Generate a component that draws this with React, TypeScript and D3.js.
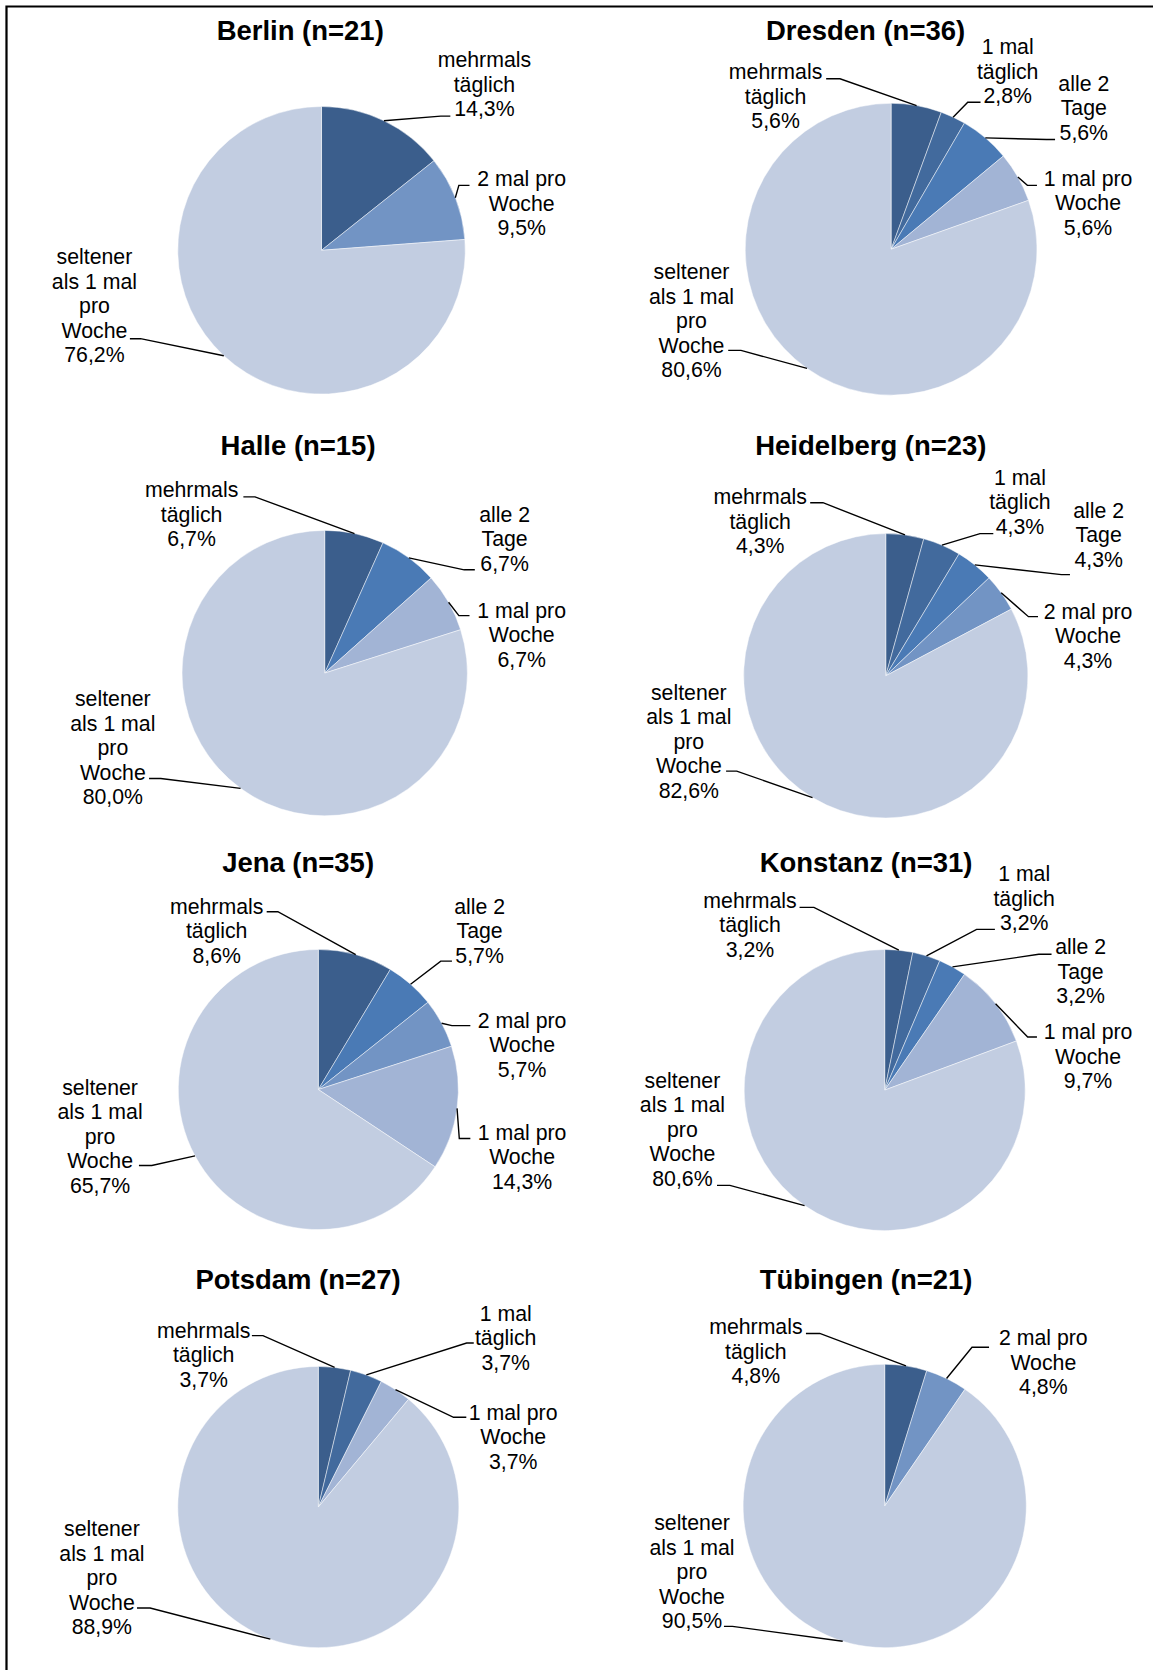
import React from "react";
import * as d3 from "d3";

// Answer categories (clockwise order, starting at 12 o'clock)
const categories = [
  "mehrmals täglich",
  "1 mal täglich",
  "alle 2 Tage",
  "2 mal pro Woche",
  "1 mal pro Woche",
  "seltener als 1 mal pro Woche",
];

// How each category label is broken into lines
const categoryLines = [
  ["mehrmals", "täglich"],
  ["1 mal", "täglich"],
  ["alle 2", "Tage"],
  ["2 mal pro", "Woche"],
  ["1 mal pro", "Woche"],
  ["seltener", "als 1 mal", "pro", "Woche"],
];

const categoryColors = ["#3b5e8c", "#426a9d", "#4a7ab5", "#7294c4", "#a2b4d5", "#c2cde1"];

const cities = ["Berlin", "Dresden", "Halle", "Heidelberg", "Jena", "Konstanz", "Potsdam", "Tübingen"];
const sampleSizes = [21, 36, 15, 23, 35, 31, 27, 21];

// Shares in percent, one entry per category
const sharesBerlin = [14.3, 0, 0, 9.5, 0, 76.2];
const sharesDresden = [5.6, 2.8, 5.6, 0, 5.6, 80.6];
const sharesHalle = [6.7, 0, 6.7, 0, 6.7, 80.0];
const sharesHeidelberg = [4.3, 4.3, 4.3, 4.3, 0, 82.6];
const sharesJena = [8.6, 0, 5.7, 5.7, 14.3, 65.7];
const sharesKonstanz = [3.2, 3.2, 3.2, 0, 9.7, 80.6];
const sharesPotsdam = [3.7, 3.7, 0, 0, 3.7, 88.9];
const sharesTuebingen = [4.8, 0, 0, 4.8, 0, 90.5];

const cityShares = [
  sharesBerlin,
  sharesDresden,
  sharesHalle,
  sharesHeidelberg,
  sharesJena,
  sharesKonstanz,
  sharesPotsdam,
  sharesTuebingen,
];

// Panel geometry: pie centre/radius, title anchor and label placement.
// Label: x = text centre, y = centre of first line, (ex, ey) = leader elbow, sx = leader end.
type LabelPos = { x: number; y: number; ex: number; ey: number; sx: number };
type PanelLayout = {
  cx: number;
  cy: number;
  r: number;
  tx: number;
  ty: number;
  labels: Record<number, LabelPos>;
};

const panelLayouts: PanelLayout[] = [
  {
    cx: 302, cy: 235, r: 135, tx: 282, ty: 37.5,
    labels: {
      0: { x: 455, y: 56, ex: 414, ey: 109, sx: 423 },
      3: { x: 490, y: 168, ex: 431, ey: 174, sx: 441 },
      5: { x: 88.7, y: 241, ex: 132, ey: 318, sx: 122 },
    },
  },
  {
    cx: 837, cy: 234, r: 137, tx: 813, ty: 37.5,
    labels: {
      0: { x: 728.5, y: 67.3, ex: 789, ey: 74, sx: 776 },
      1: { x: 946.5, y: 44, ex: 909, ey: 96, sx: 921 },
      2: { x: 1018, y: 78, ex: 983, ey: 131, sx: 991 },
      4: { x: 1022, y: 167.5, ex: 965, ey: 174, sx: 974 },
      5: { x: 649.5, y: 255, ex: 696, ey: 329, sx: 684 },
    },
  },
  {
    cx: 305, cy: 632, r: 134, tx: 280, ty: 427.5,
    labels: {
      0: { x: 180, y: 460, ex: 239.5, ey: 466.5, sx: 228.6 },
      2: { x: 474, y: 483, ex: 436, ey: 535, sx: 446 },
      4: { x: 490, y: 573, ex: 431, ey: 578, sx: 441 },
      5: { x: 106, y: 656, ex: 151, ey: 731, sx: 140 },
    },
  },
  {
    cx: 832, cy: 634.5, r: 133.5, tx: 818, ty: 427.5,
    labels: {
      0: { x: 714, y: 466.5, ex: 773, ey: 472, sx: 761 },
      1: { x: 958, y: 448, ex: 920.5, ey: 501, sx: 933 },
      2: { x: 1032, y: 479, ex: 997, ey: 539.5, sx: 1005 },
      3: { x: 1022, y: 574, ex: 966, ey: 579, sx: 975 },
      5: { x: 647, y: 650, ex: 692, ey: 724, sx: 682 },
    },
  },
  {
    cx: 299, cy: 1023, r: 131.5, tx: 280, ty: 819,
    labels: {
      0: { x: 203.5, y: 851, ex: 261, ey: 856, sx: 250.5 },
      2: { x: 450.5, y: 851, ex: 414, ey: 902.4, sx: 424.5 },
      3: { x: 490.4, y: 958, ex: 424.5, ey: 963, sx: 441.8 },
      4: { x: 490.4, y: 1063, ex: 431.4, ey: 1069, sx: 441.8 },
      5: { x: 94, y: 1020.7, ex: 142.6, ey: 1094.3, sx: 130.5 },
    },
  },
  {
    cx: 831, cy: 1023.5, r: 132, tx: 813.5, ty: 819,
    labels: {
      0: { x: 704.5, y: 845.4, ex: 764.5, ey: 852, sx: 751 },
      1: { x: 962, y: 820.3, ex: 917.3, ey: 872.6, sx: 934.5 },
      2: { x: 1015, y: 889.2, ex: 975.7, ey: 896, sx: 987.7 },
      4: { x: 1022, y: 969, ex: 965.3, ey: 973.7, sx: 974 },
      5: { x: 641, y: 1014.5, ex: 685.6, ey: 1113, sx: 673.5 },
    },
  },
  {
    cx: 299, cy: 1415, r: 132, tx: 280, ty: 1210,
    labels: {
      0: { x: 191.3, y: 1249, ex: 247, ey: 1254, sx: 236.6 },
      1: { x: 475, y: 1233, ex: 438.3, ey: 1261, sx: 445 },
      4: { x: 482, y: 1326, ex: 426, ey: 1330.7, sx: 438 },
      5: { x: 95.7, y: 1435.6, ex: 141, ey: 1509.8, sx: 128.7 },
    },
  },
  {
    cx: 831, cy: 1414, r: 133, tx: 813.5, ty: 1210,
    labels: {
      0: { x: 710, y: 1246, ex: 770, ey: 1252, sx: 757 },
      3: { x: 980, y: 1256, ex: 913, ey: 1265, sx: 929 },
      5: { x: 650, y: 1430, ex: 688, ey: 1527, sx: 680 },
    },
  },
];

const FONT = "'Liberation Sans', Arial, Helvetica, sans-serif";
const LABEL_SIZE = 20;
const LINE_STEP = 23;
const TITLE_SIZE = 25.8;

const formatPct = (v: number) => d3.format(".1f")(v).replace(".", ",") + "%";

const pieGen = d3
  .pie<number>()
  .sort(null)
  .value((d) => d)
  .startAngle(0)
  .endAngle(2 * Math.PI);

function PiePanel({ index }: { index: number }) {
  const values = cityShares[index];
  const layout = panelLayouts[index];
  const arcs = pieGen(values);
  const arcGen = d3
    .arc<d3.PieArcDatum<number>>()
    .innerRadius(0)
    .outerRadius(layout.r);

  return (
    <g>
      <text
        x={layout.tx}
        y={layout.ty}
        textAnchor="middle"
        fontFamily={FONT}
        fontWeight="bold"
        fontSize={TITLE_SIZE}
        fill="#000"
      >
        {`${cities[index]} (n=${sampleSizes[index]})`}
      </text>

      <g transform={`translate(${layout.cx},${layout.cy})`}>
        {arcs
          .filter((a) => a.value > 0)
          .map((a) => (
            <path
              key={a.index}
              d={arcGen(a) || ""}
              fill={categoryColors[a.index]}
              stroke="#ffffff"
              strokeOpacity={0.55}
              strokeWidth={0.8}
              strokeLinejoin="round"
            />
          ))}
      </g>

      {arcs
        .filter((a) => a.value > 0)
        .map((a) => {
          const pos = layout.labels[a.index];
          if (!pos) return null;
          const mid = (a.startAngle + a.endAngle) / 2;
          const x0 = layout.cx + layout.r * Math.sin(mid);
          const y0 = layout.cy - layout.r * Math.cos(mid);
          const lines = [...categoryLines[a.index], formatPct(a.value)];
          return (
            <g key={`lab-${a.index}`}>
              <polyline
                points={`${x0},${y0} ${pos.ex},${pos.ey} ${pos.sx},${pos.ey}`}
                fill="none"
                stroke="#000"
                strokeWidth={1.3}
              />
              <text
                textAnchor="middle"
                fontFamily={FONT}
                fontSize={LABEL_SIZE}
                fill="#000"
              >
                {lines.map((ln, i) => (
                  <tspan key={i} x={pos.x} y={pos.y + i * LINE_STEP + 7}>
                    {ln}
                  </tspan>
                ))}
              </text>
            </g>
          );
        })}
    </g>
  );
}

export default function App() {
  return (
    <svg
      width={1153}
      height={1670}
      viewBox="0 0 1083 1568"
      preserveAspectRatio="none"
      style={{ position: "absolute", left: 0, top: 0, display: "block" }}
    >
      <rect x={0} y={0} width={1083} height={1568} fill="#ffffff" />
      <path d="M6.1,1568 V6.1 H1083" fill="none" stroke="#000" strokeWidth={2.1} />
      {cities.map((_, i) => (
        <PiePanel key={i} index={i} />
      ))}
    </svg>
  );
}
